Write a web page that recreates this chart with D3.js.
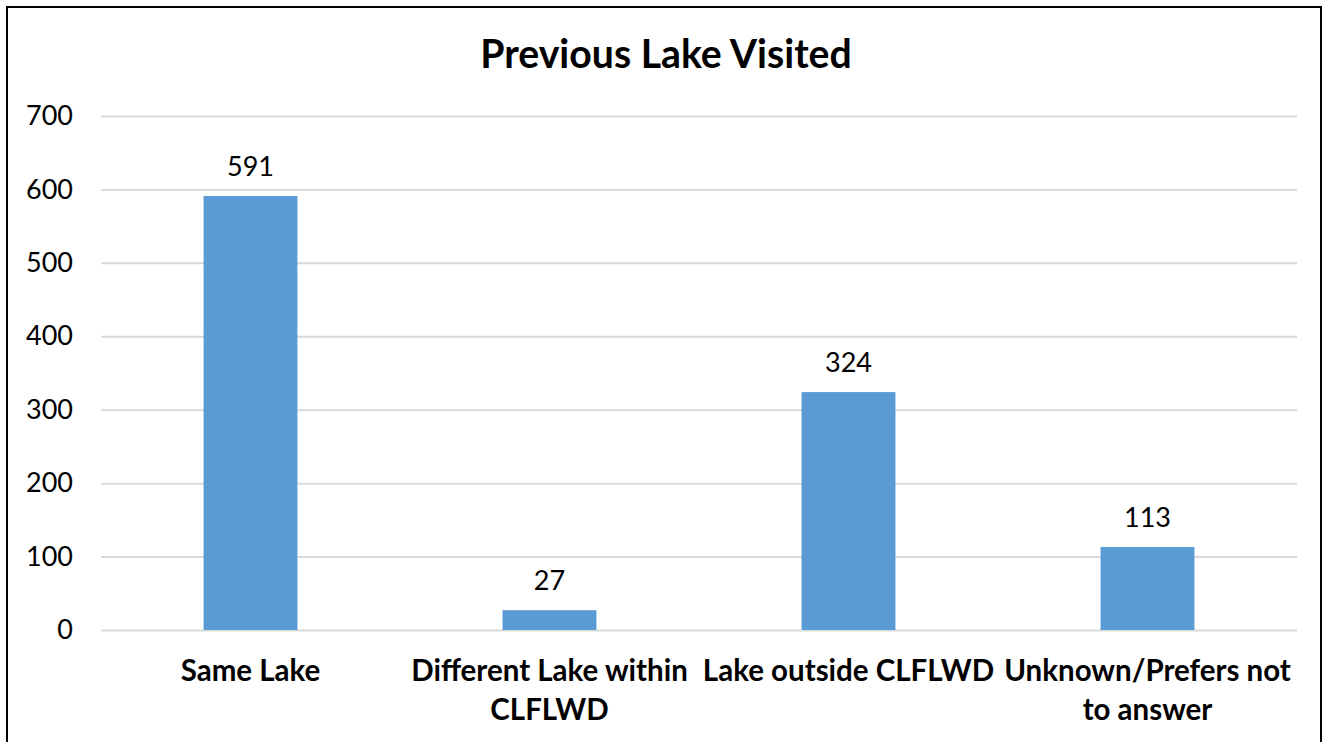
<!DOCTYPE html>
<html><head><meta charset="utf-8">
<script src="https://cdn.jsdelivr.net/npm/d3@7"></script>
<style>body{margin:0;background:#fff}svg{display:block}text{font-family:Lato,"Open Sans",sans-serif}</style>
</head><body><svg id="c" width="1325" height="742"></svg>
<script>
const categories = [["Same Lake"], ["Different Lake within", "CLFLWD"], ["Lake outside CLFLWD"], ["Unknown/Prefers not", "to answer"]];
const values = [591, 27, 324, 113];
const yTicks = [0, 100, 200, 300, 400, 500, 600, 700];
const title = "Previous Lake Visited";

const svg = d3.select("#c");
svg.append("rect").attr("x", 7).attr("y", 7).attr("width", 1314).attr("height", 760)
  .attr("fill", "none").attr("stroke", "#000").attr("stroke-width", 2);

const x = d3.scaleBand().domain(d3.range(values.length)).range([101, 1297]).paddingInner(0.686).paddingOuter(0.343);
const y = d3.scaleLinear().domain([0, 700]).range([630, 116]);

svg.append("text").attr("x", 666).attr("y", 68).attr("text-anchor", "middle")
  .attr("font-weight", "bold").attr("font-size", 39.2).attr("fill", "#000").text(title);

const yAxis = d3.axisLeft(y).tickValues(yTicks).tickSize(-(1297 - 101)).tickPadding(28);
const gy = svg.append("g").attr("transform", "translate(101,0)").call(yAxis);
gy.select(".domain").remove();
gy.selectAll(".tick line").attr("stroke", "#d9d9d9").attr("stroke-width", 2);
gy.selectAll(".tick text").attr("font-size", 27).attr("fill", "#000").attr("font-family", "Lato");

svg.selectAll("rect.bar").data(values).join("rect").attr("class", "bar")
  .attr("x", (d, i) => x(i)).attr("width", x.bandwidth())
  .attr("y", d => y(d)).attr("height", d => y(0) - y(d)).attr("fill", "#5b9bd5");

svg.selectAll("text.val").data(values).join("text").attr("class", "val")
  .attr("x", (d, i) => x(i) + x.bandwidth() / 2).attr("y", d => y(d) - 20)
  .attr("text-anchor", "middle").attr("font-size", 27).attr("fill", "#000").text(d => d);

const cl = svg.selectAll("text.cat").data(categories).join("text").attr("class", "cat")
  .attr("text-anchor", "middle").attr("font-weight", "bold").attr("font-size", 29.5).attr("fill", "#000");
cl.selectAll("tspan").data((d, i) => d.map(t => ({t, i}))).join("tspan")
  .attr("x", d => x(d.i) + x.bandwidth() / 2).attr("y", (d, j) => 681 + j * 39).text(d => d.t);
</script></body></html>
